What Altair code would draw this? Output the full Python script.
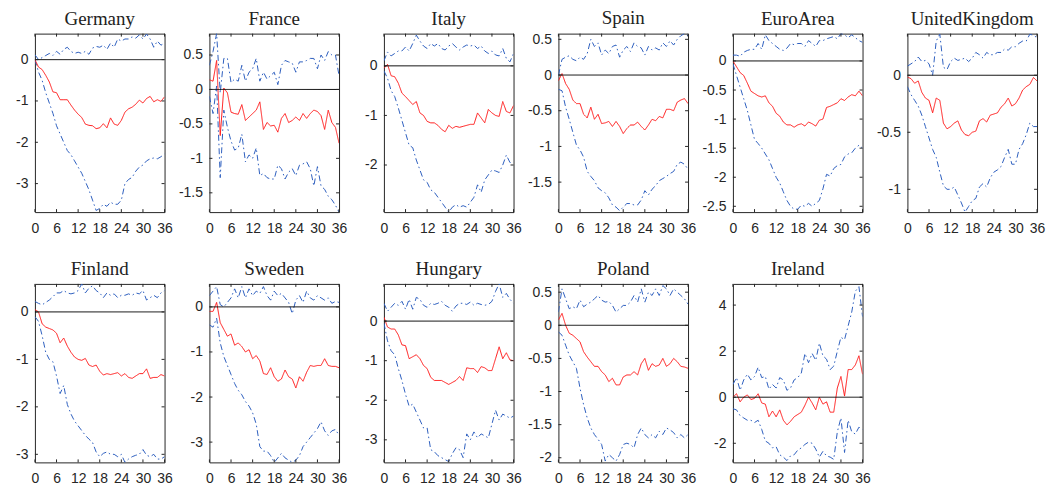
import altair as alt
import pandas as pd

months = list(range(37))
x_ticks = [0, 6, 12, 18, 24, 30, 36]

# ---------------- data ----------------
germany_irf = [0.0, -0.18, -0.24, -0.38, -0.54, -0.78, -0.8, -0.97, -0.97, -0.97, -1.1, -1.22, -1.32, -1.4, -1.56, -1.59, -1.6, -1.67, -1.65, -1.55, -1.65, -1.41, -1.56, -1.59, -1.47, -1.27, -1.19, -1.15, -1.08, -0.98, -1.05, -0.94, -0.89, -1.02, -0.97, -1.01, -0.9]
germany_hi = [0.12, 0.0, 0.05, 0.1, 0.15, 0.1, 0.2, 0.13, 0.25, 0.3, 0.2, 0.15, 0.18, 0.15, 0.2, 0.13, 0.28, 0.32, 0.3, 0.35, 0.25, 0.4, 0.3, 0.5, 0.45, 0.5, 0.5, 0.55, 0.52, 0.6, 0.5, 0.62, 0.5, 0.3, 0.45, 0.35, 0.4]
germany_lo = [0.0, -0.3, -0.5, -0.8, -1.05, -1.3, -1.6, -1.8, -2.0, -2.2, -2.3, -2.45, -2.6, -2.75, -2.95, -3.15, -3.4, -3.65, -3.6, -3.5, -3.55, -3.45, -3.5, -3.5, -3.4, -3.0, -2.9, -2.85, -2.7, -2.6, -2.55, -2.45, -2.4, -2.38, -2.4, -2.35, -2.28]

france_irf = [0.14, 0.12, 0.42, -0.67, 0.02, -0.05, -0.33, -0.35, -0.36, -0.22, -0.45, -0.4, -0.35, -0.3, -0.18, -0.58, -0.48, -0.53, -0.52, -0.62, -0.42, -0.35, -0.48, -0.45, -0.4, -0.45, -0.35, -0.42, -0.35, -0.3, -0.32, -0.38, -0.58, -0.3, -0.48, -0.55, -0.78]
france_hi = [0.35, 0.55, 0.81, -0.05, 0.45, 0.45, 0.1, 0.15, 0.12, 0.35, 0.12, 0.25, 0.3, 0.45, 0.12, 0.25, 0.15, 0.2, 0.25, 0.07, 0.35, 0.42, 0.4, 0.38, 0.25, 0.4, 0.4, 0.42, 0.45, 0.45, 0.3, 0.5, 0.42, 0.55, 0.5, 0.5, 0.2]
france_lo = [-0.1, -0.35, 0.05, -1.28, -0.3, -0.55, -0.75, -0.88, -0.85, -0.65, -1.05, -0.95, -1.0, -0.85, -1.25, -1.22, -1.28, -1.3, -1.3, -1.1, -1.15, -1.3, -1.2, -1.15, -1.25, -1.1, -1.08, -1.05, -1.15, -1.4, -1.12, -1.4, -1.45, -1.55, -1.6, -1.68, -1.78]

italy_irf = [-0.05, 0.03, -0.2, -0.22, -0.35, -0.55, -0.62, -0.7, -0.78, -0.72, -0.95, -1.0, -1.12, -1.15, -1.15, -1.2, -1.28, -1.33, -1.2, -1.26, -1.22, -1.24, -1.22, -1.2, -1.18, -1.18, -0.95, -1.05, -1.15, -0.88, -0.95, -1.0, -1.02, -0.72, -0.92, -0.95, -0.8]
italy_hi = [0.1, 0.28, 0.2, 0.25, 0.3, 0.3, 0.38, 0.3, 0.45, 0.62, 0.5, 0.4, 0.35, 0.45, 0.4, 0.45, 0.35, 0.32, 0.4, 0.45, 0.38, 0.32, 0.38, 0.42, 0.4, 0.42, 0.35, 0.4, 0.3, 0.25, 0.3, 0.22, 0.2, 0.35, 0.15, 0.08, 0.25]
italy_lo = [-0.1, -0.25, -0.5, -0.62, -0.85, -1.1, -1.35, -1.6, -1.65, -1.9, -2.1, -2.3, -2.35, -2.5, -2.55, -2.65, -2.75, -2.85, -2.95, -2.85, -2.8, -2.85, -2.82, -2.85, -2.75, -2.65, -2.4, -2.55, -2.3, -2.2, -2.1, -2.12, -2.15, -2.0, -1.8, -1.95, -1.95]

spain_irf = [-0.08, 0.02, -0.12, -0.2, -0.35, -0.4, -0.4, -0.55, -0.6, -0.45, -0.62, -0.55, -0.68, -0.67, -0.65, -0.72, -0.65, -0.72, -0.82, -0.75, -0.7, -0.7, -0.66, -0.72, -0.77, -0.7, -0.62, -0.64, -0.58, -0.6, -0.48, -0.48, -0.5, -0.38, -0.35, -0.33, -0.4]
spain_hi = [0.0, 0.22, 0.25, 0.27, 0.22, 0.2, 0.25, 0.22, 0.3, 0.5, 0.4, 0.45, 0.28, 0.35, 0.3, 0.4, 0.42, 0.25, 0.35, 0.4, 0.33, 0.45, 0.4, 0.38, 0.28, 0.4, 0.35, 0.38, 0.35, 0.45, 0.4, 0.48, 0.42, 0.5, 0.55, 0.58, 0.55]
spain_lo = [-0.2, -0.22, -0.45, -0.62, -0.8, -0.98, -1.05, -1.15, -1.35, -1.42, -1.48, -1.58, -1.62, -1.65, -1.72, -1.82, -1.85, -1.9, -1.85, -1.8, -1.8, -1.82, -1.82, -1.75, -1.62, -1.68, -1.6, -1.55, -1.48, -1.45, -1.42, -1.38, -1.35, -1.25, -1.22, -1.25, -1.32]

euro_irf = [0.0, -0.1, -0.2, -0.25, -0.38, -0.52, -0.56, -0.6, -0.62, -0.6, -0.72, -0.78, -0.9, -0.95, -1.05, -1.1, -1.1, -1.14, -1.1, -1.08, -1.12, -1.05, -1.08, -1.12, -1.02, -1.0, -0.8, -0.78, -0.75, -0.72, -0.65, -0.68, -0.62, -0.58, -0.6, -0.52, -0.6]
euro_hi = [0.1, 0.1, 0.08, 0.15, 0.18, 0.2, 0.2, 0.3, 0.2, 0.45, 0.35, 0.3, 0.25, 0.2, 0.18, 0.22, 0.3, 0.28, 0.3, 0.3, 0.25, 0.35, 0.3, 0.25, 0.35, 0.35, 0.38, 0.4, 0.42, 0.38, 0.47, 0.45, 0.4, 0.45, 0.4, 0.35, 0.32]
euro_lo = [-0.05, -0.25, -0.45, -0.65, -0.85, -1.1, -1.35, -1.42, -1.5, -1.6, -1.7, -1.85, -2.0, -2.1, -2.25, -2.4, -2.5, -2.55, -2.55, -2.48, -2.5, -2.45, -2.5, -2.45, -2.4, -2.2, -1.95, -1.98, -1.85, -1.8, -1.78, -1.65, -1.6, -1.58, -1.5, -1.45, -1.5]

uk_irf = [-0.015, -0.03, -0.07, -0.05, -0.15, -0.2, -0.22, -0.33, -0.2, -0.22, -0.42, -0.47, -0.45, -0.42, -0.4, -0.48, -0.52, -0.53, -0.5, -0.49, -0.4, -0.38, -0.41, -0.35, -0.34, -0.33, -0.28, -0.25, -0.2, -0.27, -0.25, -0.2, -0.13, -0.1, -0.08, -0.02, -0.05]
uk_hi = [0.08, 0.1, 0.12, 0.16, 0.12, 0.13, 0.1, 0.0, 0.3, 0.36, 0.07, 0.05, 0.12, 0.15, 0.13, 0.14, 0.15, 0.12, 0.15, 0.2, 0.18, 0.15, 0.2, 0.18, 0.18, 0.2, 0.2, 0.23, 0.22, 0.25, 0.25, 0.28, 0.3, 0.3, 0.36, 0.35, 0.33]
uk_lo = [-0.1, -0.17, -0.22, -0.27, -0.35, -0.45, -0.55, -0.65, -0.72, -0.85, -0.97, -1.0, -1.0, -0.98, -1.05, -1.12, -1.2, -1.15, -1.1, -1.08, -0.98, -0.95, -0.98, -0.9, -0.85, -0.83, -0.8, -0.72, -0.65, -0.78, -0.78, -0.65, -0.6, -0.52, -0.42, -0.45, -0.45]

finland_irf = [0.05, 0.0, -0.25, -0.32, -0.35, -0.38, -0.45, -0.65, -0.55, -0.72, -0.85, -0.95, -1.0, -1.02, -0.98, -1.12, -1.15, -1.12, -1.25, -1.33, -1.3, -1.32, -1.3, -1.28, -1.35, -1.3, -1.38, -1.4, -1.35, -1.3, -1.3, -1.2, -1.4, -1.38, -1.38, -1.32, -1.35]
finland_hi = [0.22, 0.18, 0.15, 0.2, 0.25, 0.32, 0.4, 0.4, 0.45, 0.4, 0.38, 0.4, 0.45, 0.59, 0.4, 0.5, 0.55, 0.45, 0.4, 0.3, 0.4, 0.35, 0.38, 0.3, 0.35, 0.35, 0.38, 0.35, 0.4, 0.38, 0.45, 0.25, 0.3, 0.35, 0.3, 0.4, 0.45]
finland_lo = [-0.1, -0.2, -0.5, -0.85, -1.0, -1.05, -1.35, -1.72, -1.55, -1.95, -2.15, -2.3, -2.4, -2.5, -2.6, -2.68, -2.75, -2.95, -3.05, -2.98, -2.95, -3.0, -3.0, -3.05, -3.0, -3.17, -3.1, -3.05, -3.02, -3.0, -2.9, -3.02, -3.05, -3.0, -3.1, -3.1, -3.05]

sweden_irf = [-0.1, -0.1, 0.1, -0.35, -0.5, -0.65, -0.6, -0.85, -0.8, -0.88, -1.0, -0.95, -1.15, -1.08, -1.2, -1.48, -1.5, -1.35, -1.55, -1.65, -1.6, -1.4, -1.55, -1.6, -1.8, -1.55, -1.65, -1.45, -1.3, -1.32, -1.3, -1.3, -1.15, -1.3, -1.32, -1.32, -1.35]
sweden_hi = [0.25, 0.35, 0.45, 0.05, 0.0, 0.1, 0.2, 0.4, 0.2, 0.45, 0.2, 0.4, 0.25, 0.35, 0.3, 0.45, 0.25, 0.15, 0.35, 0.25, 0.3, 0.2, 0.1, -0.15, 0.15, 0.25, 0.1, 0.35, 0.2, 0.15, 0.25, 0.2, 0.15, 0.2, 0.08, 0.12, 0.1]
sweden_lo = [-0.4, -0.45, -0.25, -0.8, -1.1, -1.3, -1.5, -1.7, -1.85, -1.95, -2.1, -2.2, -2.35, -2.6, -3.1, -3.2, -3.2, -3.3, -3.45, -3.35, -3.25, -3.35, -3.4, -3.45, -3.4, -3.3, -3.1, -3.0, -2.9, -2.8, -2.7, -2.55, -2.75, -2.85, -2.75, -2.72, -2.85]

hungary_irf = [0.1, -0.15, -0.2, -0.2, -0.35, -0.6, -0.62, -0.95, -0.9, -0.85, -0.95, -1.12, -1.2, -1.42, -1.5, -1.5, -1.5, -1.55, -1.6, -1.55, -1.5, -1.4, -1.5, -1.18, -1.2, -1.2, -1.3, -1.15, -1.18, -1.25, -1.25, -0.95, -0.65, -0.95, -0.8, -0.98, -1.0]
hungary_hi = [0.45, 0.25, 0.35, 0.45, 0.4, 0.5, 0.3, 0.55, 0.3, 0.6, 0.55, 0.4, 0.35, 0.45, 0.42, 0.45, 0.5, 0.4, 0.35, 0.25, 0.38, 0.45, 0.45, 0.42, 0.48, 0.4, 0.45, 0.42, 0.4, 0.42, 0.5, 0.75, 0.94, 0.6, 0.7, 0.55, 0.45]
hungary_lo = [-0.05, -0.5, -0.75, -0.85, -1.2, -1.5, -1.85, -2.15, -2.1, -2.3, -2.5, -2.7, -2.7, -3.25, -3.3, -3.4, -3.45, -3.5, -3.55, -3.35, -3.2, -3.25, -3.45, -2.85, -3.0, -2.8, -2.95, -2.85, -2.9, -2.95, -2.6, -2.25, -2.5, -2.35, -2.4, -2.45, -2.4]

poland_irf = [0.08, 0.18, 0.0, -0.12, -0.15, -0.2, -0.25, -0.4, -0.48, -0.55, -0.62, -0.62, -0.7, -0.75, -0.85, -0.8, -0.9, -0.9, -0.78, -0.75, -0.75, -0.7, -0.75, -0.58, -0.5, -0.68, -0.58, -0.62, -0.6, -0.5, -0.62, -0.58, -0.5, -0.55, -0.62, -0.63, -0.65]
poland_hi = [0.2, 0.55, 0.4, 0.25, 0.28, 0.25, 0.38, 0.28, 0.32, 0.35, 0.4, 0.45, 0.38, 0.35, 0.36, 0.3, 0.2, 0.25, 0.3, 0.3, 0.35, 0.45, 0.35, 0.55, 0.35, 0.5, 0.45, 0.55, 0.45, 0.6, 0.55, 0.45, 0.55, 0.5, 0.45, 0.4, 0.32]
poland_lo = [-0.1, -0.15, -0.3, -0.45, -0.55, -0.65, -0.95, -1.2, -1.4, -1.55, -1.65, -1.72, -1.8, -2.05, -1.95, -2.0, -2.05, -1.95, -1.8, -1.78, -1.8, -1.85, -1.65, -1.55, -1.65, -1.7, -1.65, -1.7, -1.6, -1.65, -1.55, -1.58, -1.62, -1.7, -1.65, -1.7, -1.65]

ireland_irf = [0.0, 0.15, -0.2, 0.0, 0.1, -0.1, -0.05, 0.15, -0.25, -0.3, -0.85, -0.6, -0.85, -0.55, -1.0, -1.2, -1.05, -0.85, -0.75, -0.65, -0.35, 0.0, -0.25, -0.55, 0.0, -0.3, -0.2, -0.65, -0.65, 0.4, 0.9, 0.05, 1.2, 1.2, 1.4, 1.8, 1.0]
ireland_hi = [0.55, 0.85, 0.3, 0.75, 1.0, 0.75, 0.9, 1.3, 0.85, 0.9, 0.35, 0.55, 0.4, 0.85, 0.75, 0.3, 0.4, 0.75, 0.85, 1.05, 1.9, 1.5, 1.9, 1.6, 2.35, 1.8, 1.65, 1.2, 1.35, 2.0, 2.6, 2.5, 3.1, 3.7, 4.6, 4.8, 3.5]
ireland_lo = [-0.5, -0.55, -0.8, -0.9, -1.0, -1.0, -1.1, -1.0, -1.4, -1.9, -2.0, -2.2, -2.15, -2.5, -2.6, -2.75, -2.55, -2.5, -2.3, -2.2, -2.05, -1.95, -2.0, -2.25, -2.6, -2.35, -2.55, -2.6, -2.7, -1.5, -0.9, -2.4, -1.0, -1.5, -1.6, -1.3, -1.4]

countries = ["Germany", "France", "Italy", "Spain", "EuroArea", "UnitedKingdom",
             "Finland", "Sweden", "Hungary", "Poland", "Ireland"]
irf_series = [germany_irf, france_irf, italy_irf, spain_irf, euro_irf, uk_irf,
              finland_irf, sweden_irf, hungary_irf, poland_irf, ireland_irf]
hi_series = [germany_hi, france_hi, italy_hi, spain_hi, euro_hi, uk_hi,
             finland_hi, sweden_hi, hungary_hi, poland_hi, ireland_hi]
lo_series = [germany_lo, france_lo, italy_lo, spain_lo, euro_lo, uk_lo,
             finland_lo, sweden_lo, hungary_lo, poland_lo, ireland_lo]

y_domains = [[-3.69, 0.63], [-1.78, 0.81], [-2.95, 0.65], [-1.92, 0.58], [-2.6, 0.47], [-1.2, 0.365],
             [-3.17, 0.59], [-3.45, 0.51], [-3.57, 0.94], [-2.07, 0.625], [-2.83, 4.92]]
y_ticks = [[0, -1, -2, -3], [0.5, 0, -0.5, -1, -1.5], [0, -1, -2], [0.5, 0, -0.5, -1, -1.5],
           [0, -0.5, -1, -1.5, -2, -2.5], [0, -0.5, -1],
           [0, -1, -2, -3], [0, -1, -2, -3], [0, -1, -2, -3], [0.5, 0, -0.5, -1, -1.5, -2], [4, 2, 0, -2]]

W, H = 130, 179
RED = "#ff1a1a"
BLUE = "#2e5fbf"
AX = "#262626"
TL = 3
DASHDOT = [6, 3, 1.5, 3]
LABEL = dict(labelFontSize=14, labelColor=AX, labelFont="Liberation Sans",
             labelOverlap=False, labelFlush=False, labelBound=False,
             grid=False, domain=False, ticks=False, title=None)
series_order = ["hi", "lo", "zero", "irf"]


def panel(name, irf, hi, lo, dom, ticks):
    df = pd.DataFrame({
        "m": months * 3 + [0, 36],
        "v": hi + lo + irf + [0, 0],
        "s": ["hi"] * 37 + ["lo"] * 37 + ["irf"] * 37 + ["zero"] * 2,
    })
    xax = alt.Axis(values=x_ticks, labelPadding=9, **LABEL)
    yax = alt.Axis(values=ticks, labelPadding=7, labelExpr="'' + datum.value", **LABEL)
    xs = alt.Scale(domain=[0, 36], nice=False, zero=False)
    ys = alt.Scale(domain=dom, nice=False, zero=False)
    lines = alt.Chart(df).mark_line(strokeWidth=1, clip=True).encode(
        x=alt.X("m:Q", scale=xs, axis=xax),
        y=alt.Y("v:Q", scale=ys, axis=yax),
        color=alt.Color("s:N", scale=alt.Scale(domain=series_order, range=[BLUE, BLUE, "black", RED]),
                        legend=None),
        strokeDash=alt.StrokeDash("s:N", scale=alt.Scale(domain=series_order,
                                                         range=[DASHDOT, DASHDOT, [1, 0], [1, 0]]),
                                  legend=None),
        order=alt.Order("m:Q"),
    )
    xt = alt.Chart(pd.DataFrame({"m": x_ticks}))
    xt_bot = xt.mark_rule(color=AX, strokeWidth=1).encode(
        x=alt.X("m:Q", scale=xs, axis=xax), y=alt.value(H), y2=alt.value(H - TL))
    xt_top = xt.mark_rule(color=AX, strokeWidth=1).encode(
        x=alt.X("m:Q", scale=xs, axis=xax), y=alt.value(0), y2=alt.value(TL))
    yt = alt.Chart(pd.DataFrame({"v": ticks}))
    yt_l = yt.mark_rule(color=AX, strokeWidth=1).encode(
        y=alt.Y("v:Q", scale=ys, axis=yax), x=alt.value(0), x2=alt.value(TL))
    yt_r = yt.mark_rule(color=AX, strokeWidth=1).encode(
        y=alt.Y("v:Q", scale=ys, axis=yax), x=alt.value(W), x2=alt.value(W - TL))
    return alt.layer(lines, xt_bot, xt_top, yt_l, yt_r).properties(
        width=W, height=H,
        title=alt.TitleParams(name, font="Liberation Serif", fontSize=19, fontWeight="normal",
                              color="#222222", anchor="middle", frame="group", offset=4),
    )


panels = [panel(c, i, h, l, d, t) for c, i, h, l, d, t in
          zip(countries, irf_series, hi_series, lo_series, y_domains, y_ticks)]

chart = alt.concat(*panels, columns=6, spacing=alt.RowColnumber(row=72, column=45)).properties(
    bounds="flush",
    padding={"left": 7, "top": 0, "right": 5, "bottom": 5},
).configure_view(stroke=AX, strokeWidth=1).configure_axis(
    labelFontSize=14, labelOverlap=False,
)

chart.save("out.html", embed_options={"renderer": "svg", "actions": False})
